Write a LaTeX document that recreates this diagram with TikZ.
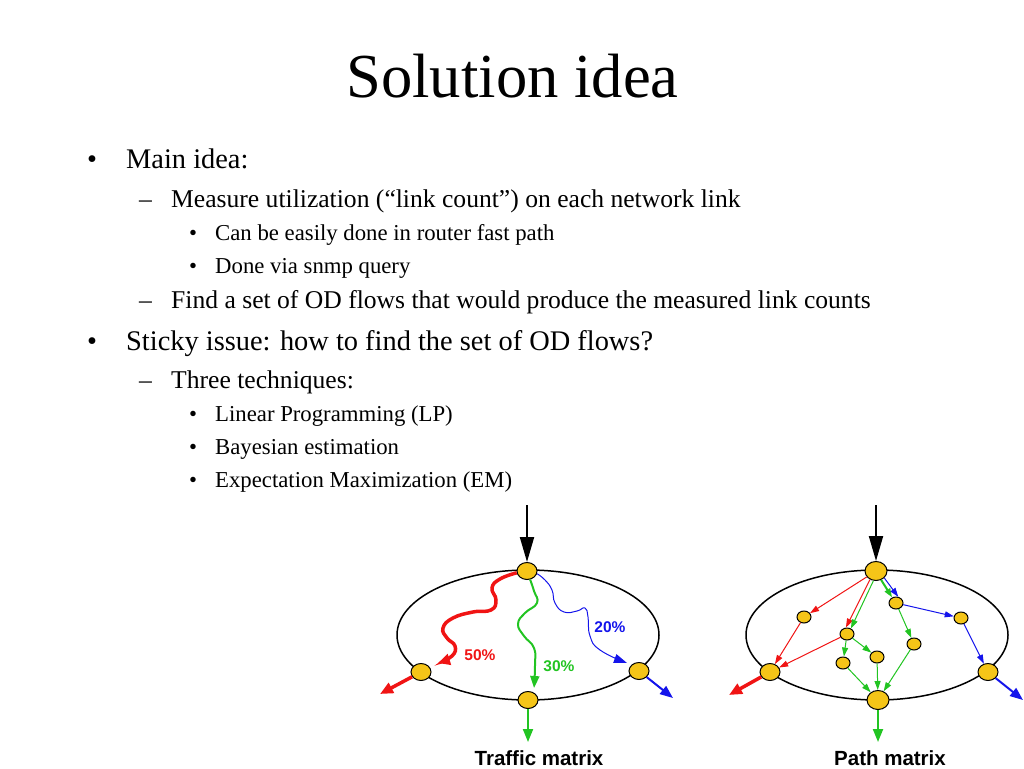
\documentclass[tikz,border=0pt]{standalone}
\usepackage{fontspec}
\setmainfont{Liberation Serif}
\newfontfamily\labelfont{Liberation Sans}
\usetikzlibrary{arrows.meta,shapes.geometric,calc}
\definecolor{nodeyellow}{RGB}{245,197,24}
\definecolor{flowred}{RGB}{240,20,20}
\definecolor{flowgreen}{RGB}{34,196,34}
\definecolor{flowblue}{RGB}{20,20,235}
\tikzset{
    title/.style = {anchor=base, inner sep=0, font=\fontsize{62.6}{70}\selectfont},
    lvlone/.style = {anchor=base west, inner sep=0, font=\fontsize{28.4}{34}\selectfont},
    lvltwo/.style = {anchor=base west, inner sep=0, font=\fontsize{25.6}{30}\selectfont},
    lvlthree/.style = {anchor=base west, inner sep=0, font=\fontsize{22.75}{27}\selectfont},
    net/.style = {draw, ellipse, line width=1.5, minimum width=262, minimum height=130, inner sep=0},
    router/.style = {draw, ellipse, fill=nodeyellow, line width=1,
        minimum width=20, minimum height=17, inner sep=0},
    bigrouter/.style = {router, minimum width=22, minimum height=19},
    hop/.style = {router, minimum width=14, minimum height=12},
    pct/.style = {font=\labelfont\bfseries\fontsize{15.5}{18}\selectfont},
    caption/.style = {anchor=base, inner sep=0, font=\labelfont\bfseries\fontsize{20.5}{24}\selectfont},
    inflow/.style = {draw, line width=2, -{Triangle[length=25,width=14]}},
    outflow/.style = {draw, line width=3.5, -{Triangle[length=13,width=11]}},
    thinout/.style = {draw, line width=2, -{Triangle[length=13,width=10]}},
    redlink/.style = {draw=flowred, line width=1, -{Triangle[length=9,width=6]}, color=flowred},
    greenlink/.style = {draw=flowgreen, line width=1, -{Triangle[length=9,width=6]}, color=flowgreen},
    bluelink/.style = {draw=flowblue, line width=1, -{Triangle[length=9,width=6]}, color=flowblue}
}

\begin{document}
\begin{tikzpicture}[x=1pt,y=-1pt]
    \useasboundingbox (0,0) rectangle (1024,768);
    % slide text
    \node [title] (ttl) at (512.5,97) {Solution idea};
    \node [lvlone] (b1) at (87,168) {•};
    \node [lvlone] (t1) at (126,168) {Main idea:};
    \node [lvltwo] (b2) at (139,207) {–};
    \node [lvltwo] (t2) at (171,207) {Measure utilization (“link count”) on each network link};
    \node [lvlthree] (b3) at (189,240) {•};
    \node [lvlthree] (t3) at (215,240) {Can be easily done in router fast path};
    \node [lvlthree] (b4) at (189,273) {•};
    \node [lvlthree] (t4) at (215,273) {Done via snmp query};
    \node [lvltwo] (b5) at (139,308) {–};
    \node [lvltwo] (t5) at (171,308) {Find a set of OD flows that would produce the measured link counts};
    \node [lvlone] (b6) at (87,350) {•};
    \node [lvlone] (t6) at (126,350) {Sticky issue: how to find the set of OD flows?};
    \node [lvltwo] (b7) at (139,388) {–};
    \node [lvltwo] (t7) at (171,388) {Three techniques:};
    \node [lvlthree] (b8) at (189,421) {•};
    \node [lvlthree] (t8) at (215,421) {Linear Programming (LP)};
    \node [lvlthree] (b9) at (189,454) {•};
    \node [lvlthree] (t9) at (215,454) {Bayesian estimation};
    \node [lvlthree] (b10) at (189,487) {•};
    \node [lvlthree] (t10) at (215,487) {Expectation Maximization (EM)};

    % traffic matrix
    \node [net] (tmnet) at (528,635) {};
    \coordinate (tmin) at (527,505);
    \coordinate (tmoutl) at (380,694);
    \coordinate (tmoutb) at (528,742);
    \coordinate (tmoutr) at (673,698);
    \node [router] (tmtop) at (527,571) {};
    \node [router] (tmleft) at (421,672) {};
    \node [router] (tmbot) at (528,700) {};
    \node [router] (tmright) at (639,671) {};
    \draw [inflow] (tmin) -- (tmtop);
    \draw [outflow, flowred] (tmleft) -- (tmoutl);
    \draw [thinout, flowgreen] (tmbot) -- (tmoutb);
    \draw [thinout, flowblue] (tmright) -- (tmoutr);
    \draw [draw=flowred, line width=3.5, -{Triangle[length=12,width=11]}, flowred]
        plot [smooth, tension=0.8] coordinates {(tmtop.190) (500,579) (492,588) (496,600)
        (491,610) (473,612) (453,618) (443,628) (447,638) (455,646) (452,656) (438,663)};
    \draw [draw=flowgreen, line width=2, -{Triangle[length=12,width=9]}, flowgreen]
        plot [smooth, tension=0.8] coordinates {(tmtop.-70) (534,591) (537,603) (525,613)
        (518,624) (524,636) (534,648) (535,665) (534,688)};
    \draw [draw=flowblue, line width=1, -{Triangle[length=13,width=9]}, flowblue]
        plot [smooth, tension=0.8] coordinates {(tmtop.-15) (545,580) (552,590) (555,603)
        (564,612) (577,611) (585,608) (588,617) (590,636) (600,650) (627,663)};
    \node [pct, flowred] (tmfifty) at (480,655) {50\%};
    \node [pct, flowgreen] (tmthirty) at (559,666) {30\%};
    \node [pct, flowblue] (tmtwenty) at (610,627) {20\%};
    \node [caption] (tmcap) at (539,765) {Traffic matrix};

    % path matrix
    \node [net] (pmnet) at (877,635) {};
    \coordinate (pmin) at (876,505);
    \coordinate (pmoutl) at (729,695);
    \coordinate (pmoutb) at (878,742);
    \coordinate (pmoutr) at (1023,700);
    \node [bigrouter] (pmtop) at (876,571) {};
    \node [router] (pmleft) at (770,672) {};
    \node [bigrouter] (pmbot) at (878,700) {};
    \node [router] (pmright) at (988,672) {};
    \foreach \n/\x/\y in {a/804/617, b/847/634, c/896/603, d/961/618, e/914/644, f/877/657, g/843/663}{
        \node [hop] (pm\n) at (\x,\y) {};
    }
    \draw [inflow] (pmin) -- (pmtop);
    \draw [outflow, flowred] (pmleft) -- (pmoutl);
    \draw [thinout, flowgreen] (pmbot) -- (pmoutb);
    \draw [thinout, flowblue] (pmright) -- (pmoutr);
    \draw [redlink] (pmtop) -- (pma);
    \draw [redlink] (pmtop.-125) -- (pmb.100);
    \draw [redlink] (pma) -- (pmleft);
    \draw [redlink] (pmb) -- (pmleft);
    \draw [greenlink] (pmtop.-105) -- (pmb.55);
    \draw [greenlink, line width=2] (pmtop.-60) -- (pmc.125);
    \draw [greenlink] (pmb) -- (pmg);
    \draw [greenlink] (pmb) -- (pmf);
    \draw [greenlink] (pmc) -- (pme);
    \draw [greenlink] (pmg) -- (pmbot);
    \draw [greenlink] (pmf) -- (pmbot);
    \draw [greenlink] (pme) -- (pmbot);
    \draw [bluelink] (pmtop.-40) -- (pmc.70);
    \draw [bluelink] (pmc) -- (pmd);
    \draw [bluelink] (pmd) -- (pmright);
    \node [caption] (pmcap) at (890,765) {Path matrix};
\end{tikzpicture}
\end{document}
